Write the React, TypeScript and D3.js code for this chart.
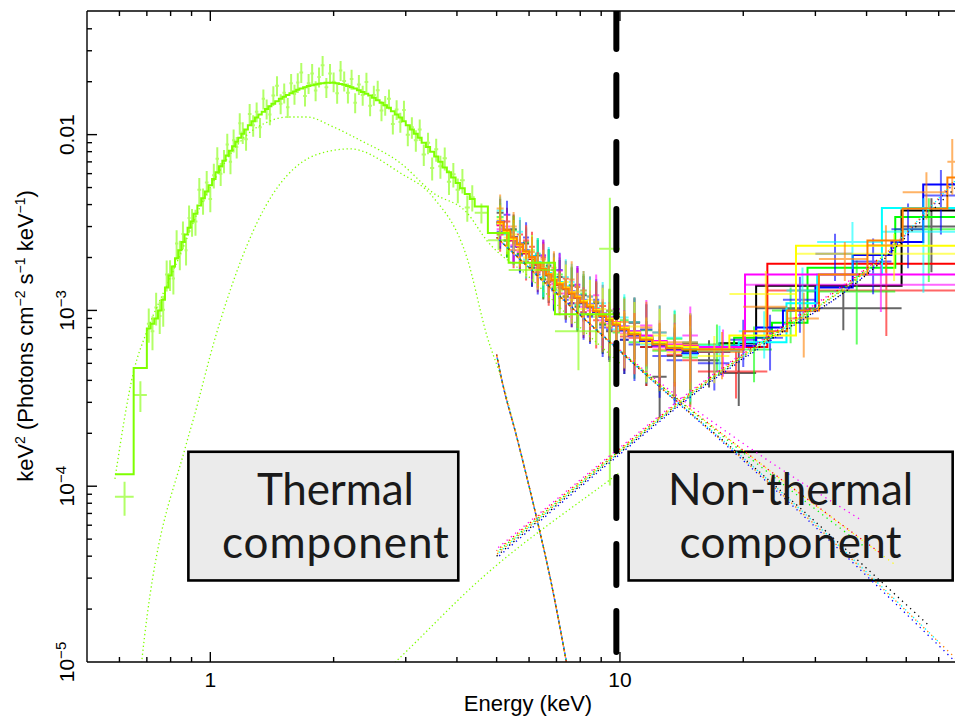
import React from "react";
import * as d3 from "d3";

// ---------- axes ----------
const X_DOMAIN: [number, number] = [0.5, 66.5];
const Y_DOMAIN: [number, number] = [1e-5, 0.0505];
const xTickLabels = [{ v: 1, t: "1" }, { v: 10, t: "10" }];
const yTickLabels = [
  { v: 1e-5, base: "10", sup: "\u22125" },
  { v: 1e-4, base: "10", sup: "\u22124" },
  { v: 1e-3, base: "10", sup: "\u22123" },
  { v: 1e-2, base: "0.01", sup: "" },
];

// ---------- soft X-ray spectrum (chartreuse) ----------
const greenEdges = [0.585, 0.65, 0.7, 0.715, 0.73, 0.745, 0.76, 0.775, 0.79, 0.805, 0.82, 0.835, 0.85, 0.865, 0.88, 0.895, 0.91, 0.93, 0.95, 0.97, 0.99, 1.01, 1.03, 1.05, 1.07, 1.09, 1.11, 1.13, 1.15, 1.17, 1.19, 1.21, 1.235, 1.26, 1.285, 1.31, 1.335, 1.36, 1.385, 1.41, 1.44, 1.47, 1.5, 1.53, 1.56, 1.59, 1.62, 1.65, 1.685, 1.72, 1.755, 1.79, 1.825, 1.86, 1.9, 1.94, 1.98, 2.02, 2.06, 2.1, 2.145, 2.19, 2.235, 2.28, 2.33, 2.38, 2.43, 2.48, 2.535, 2.59, 2.645, 2.7, 2.76, 2.82, 2.88, 2.94, 3.0, 3.07, 3.14, 3.21, 3.28, 3.36, 3.44, 3.52, 3.6, 3.69, 3.78, 3.87, 3.97, 4.07, 4.18, 4.3, 4.42, 4.76, 5.35, 6.94, 8.9, 10.0];
const greenModel = [1.17e-4, 4.7e-4, 7.9e-4, 8.4e-4, 9.0e-4, 1.0e-3, 1.15e-3, 1.35e-3, 1.58e-3, 1.78e-3, 1.98e-3, 2.2e-3, 2.45e-3, 2.7e-3, 2.95e-3, 3.2e-3, 3.55e-3, 3.95e-3, 4.35e-3, 4.75e-3, 5.15e-3, 5.6e-3, 6.1e-3, 6.6e-3, 7.1e-3, 7.6e-3, 8.1e-3, 8.6e-3, 9.1e-3, 9.6e-3, 1.01e-2, 1.07e-2, 1.13e-2, 1.19e-2, 1.25e-2, 1.3e-2, 1.35e-2, 1.4e-2, 1.45e-2, 1.5e-2, 1.55e-2, 1.6e-2, 1.64e-2, 1.68e-2, 1.72e-2, 1.76e-2, 1.8e-2, 1.83e-2, 1.86e-2, 1.89e-2, 1.91e-2, 1.93e-2, 1.95e-2, 1.96e-2, 1.97e-2, 1.97e-2, 1.97e-2, 1.96e-2, 1.94e-2, 1.92e-2, 1.89e-2, 1.86e-2, 1.83e-2, 1.79e-2, 1.75e-2, 1.71e-2, 1.67e-2, 1.62e-2, 1.57e-2, 1.52e-2, 1.47e-2, 1.42e-2, 1.36e-2, 1.3e-2, 1.25e-2, 1.19e-2, 1.13e-2, 1.07e-2, 1.01e-2, 9.6e-3, 9.0e-3, 8.5e-3, 8.0e-3, 7.5e-3, 7.0e-3, 6.5e-3, 6.1e-3, 5.7e-3, 5.3e-3, 4.95e-3, 4.6e-3, 4.3e-3, 3.9e-3, 2.76e-3, 1.87e-3, 9.5e-4, 9.5e-4];
const greenData = [8.7e-5, 3.3e-4, 8.4e-4, 7.6e-4, 1.04e-3, 9.3e-4, 1.01e-3, 1.6e-3, 1.61e-3, 1.52e-3, 2.4e-3, 2.09e-3, 2.72e-3, 2.2e-3, 3.35e-3, 3.2e-3, 3.2e-3, 4.85e-3, 4.22e-3, 5.35e-3, 4.3e-3, 5.88e-3, 7.3e-3, 6.0e-3, 7.1e-3, 8.8e-3, 7.0e-3, 9.3e-3, 8.5e-3, 1.16e-2, 1.03e-2, 9.4e-3, 1.31e-2, 1.13e-2, 1.35e-2, 1.1e-2, 1.6e-2, 1.4e-2, 1.3e-2, 1.67e-2, 1.9e-2, 1.5e-2, 1.73e-2, 1.43e-2, 1.96e-2, 1.7e-2, 1.98e-2, 2.26e-2, 1.66e-2, 1.96e-2, 2.23e-2, 1.78e-2, 2.13e-2, 2.48e-2, 1.86e-2, 2.23e-2, 2.0e-2, 1.72e-2, 2.32e-2, 2.02e-2, 1.73e-2, 2.07e-2, 1.52e-2, 1.93e-2, 1.68e-2, 1.99e-2, 1.46e-2, 1.68e-2, 1.79e-2, 1.37e-2, 1.47e-2, 1.6e-2, 1.15e-2, 1.39e-2, 1.18e-2, 1.38e-2, 1.0e-2, 1.1e-2, 9.3e-3, 1.07e-2, 7.7e-3, 9.0e-3, 6.45e-3, 8.25e-3, 6.6e-3, 7.35e-3, 5.4e-3, 5.95e-3, 4.85e-3, 5.5e-3, 3.85e-3, 4.4e-3, 3.59e-3, 2.51e-3, 1.7e-3, 7.6e-4, 2.24e-3];
const greenErr = [0.22, 0.2, 0.22, 0.22, 0.21, 0.21, 0.2, 0.2, 0.2, 0.19, 0.19, 0.19, 0.18, 0.18, 0.18, 0.18, 0.17, 0.17, 0.17, 0.16, 0.16, 0.16, 0.16, 0.15, 0.15, 0.15, 0.15, 0.15, 0.14, 0.14, 0.14, 0.14, 0.14, 0.14, 0.13, 0.13, 0.13, 0.13, 0.13, 0.13, 0.13, 0.13, 0.13, 0.13, 0.13, 0.13, 0.13, 0.13, 0.13, 0.13, 0.13, 0.13, 0.13, 0.13, 0.13, 0.13, 0.13, 0.13, 0.13, 0.13, 0.13, 0.13, 0.13, 0.13, 0.13, 0.13, 0.13, 0.13, 0.13, 0.13, 0.13, 0.13, 0.13, 0.13, 0.13, 0.13, 0.14, 0.14, 0.14, 0.14, 0.14, 0.14, 0.15, 0.15, 0.15, 0.15, 0.16, 0.16, 0.16, 0.16, 0.17, 0.17, 0.13, 0.12, 0.15, 0.4, 0.955];
// model components of the soft spectrum
const greenCoolE = [0.66, 0.68, 0.87, 0.909, 1.03, 1.3, 1.82, 2.19, 2.91, 3.5, 4.23, 4.74, 5.15, 5.6, 6.3, 6.8, 7.4, 7.8];
const greenCoolV = [5e-6, 1e-5, 1.68e-4, 2.4e-4, 7.1e-4, 3.15e-3, 7.7e-3, 8.3e-3, 6.05e-3, 4.4e-3, 2.0e-3, 7.1e-4, 4.0e-4, 1.9e-4, 6.2e-5, 2.8e-5, 1.0e-5, 5e-6];
const greenHotE = [0.585, 0.65, 0.7, 0.8, 0.86, 0.945, 1.04, 1.14, 1.23, 1.38, 1.54, 1.72, 1.99, 2.32, 2.91, 3.5, 4.23, 4.73, 6.0, 8.0, 10.0];
const greenHotV = [1.1e-4, 4.5e-4, 7.6e-4, 1.55e-3, 2.3e-3, 3.9e-3, 5.9e-3, 8.2e-3, 1.0e-2, 1.18e-2, 1.26e-2, 1.26e-2, 1.11e-2, 9.3e-3, 6.9e-3, 4.66e-3, 3.6e-3, 2.5e-3, 1.55e-3, 8.0e-4, 5.0e-4];
const greenPowE = [2.6, 2.83, 4.56, 9.46, 10.0];
const greenPowV = [8.3e-6, 1e-5, 2.95e-5, 1.09e-4, 1.2e-4];

// ---------- hard X-ray spectra (8 data sets) ----------
const nuLowEdges = [5.0, 5.2, 5.4, 5.6, 5.8, 6.0, 6.2, 6.4, 6.6, 6.8, 7.0, 7.25, 7.5, 7.75, 8.0, 8.3, 8.6, 8.9, 9.25, 9.6, 10.0, 10.5, 11.2, 12.0, 13.0, 14.2, 15.5];
const nuLowErr = [0.2, 0.2, 0.21, 0.21, 0.22, 0.22, 0.23, 0.23, 0.24, 0.24, 0.25, 0.26, 0.27, 0.28, 0.29, 0.3, 0.31, 0.32, 0.33, 0.34, 0.36, 0.38, 0.4, 0.42, 0.44, 0.46];
const nuCoolE = [5.0, 5.15, 5.6, 6.3, 6.8, 7.4, 7.8];
const nuCoolV = [5.6e-4, 4.0e-4, 1.9e-4, 6.2e-5, 2.8e-5, 1.0e-5, 5e-6];

const blackModelLow = [3.15e-3, 2.83e-3, 2.56e-3, 2.34e-3, 2.14e-3, 1.99e-3, 1.84e-3, 1.71e-3, 1.59e-3, 1.49e-3, 1.41e-3, 1.33e-3, 1.25e-3, 1.18e-3, 1.11e-3, 1.05e-3, 9.9e-4, 9.3e-4, 8.8e-4, 8.3e-4, 7.8e-4, 7.3e-4, 6.8e-4, 6.4e-4, 6.1e-4, 5.9e-4];
const blackDataLow = [3.6e-3, 2.5e-3, 2.9e-3, 2.1e-3, 2.4e-3, 1.75e-3, 2.05e-3, 1.5e-3, 1.8e-3, 1.32e-3, 1.55e-3, 1.2e-3, 1.38e-3, 1.05e-3, 1.22e-3, 9.4e-4, 1.1e-3, 8.3e-4, 7.6e-4, 9.2e-4, 6.8e-4, 8.5e-4, 6.2e-4, 4.2e-4, 5.5e-4, 6.5e-4];
const blackEdgesHigh = [15.5, 17.5, 21.5, 48.7, 66.5];
const blackModelHigh = [6.0e-4, 6.5e-4, 1.38e-3, 3.7e-3];
const blackDataHigh = [5.2e-4, 4.4e-4, 1.03e-3, 3.0e-3];
const blackErrHigh = [0.3, 0.35, 0.25, 0.45];
const blackHotE = [5, 12, 20, 57];
const blackHotV = [2.6e-3, 4.0e-4, 1.45e-4, 1.6e-5];
const blackPowE = [5, 10, 15.6, 25, 35.8, 43, 55, 66];
const blackPowV = [4.0e-5, 1.55e-4, 3.55e-4, 7.6e-4, 1.3e-3, 1.85e-3, 3.3e-3, 5.0e-3];

const redModelLow = [3.05e-3, 2.75e-3, 2.5e-3, 2.3e-3, 2.11e-3, 1.96e-3, 1.82e-3, 1.69e-3, 1.58e-3, 1.48e-3, 1.4e-3, 1.32e-3, 1.24e-3, 1.18e-3, 1.11e-3, 1.05e-3, 9.9e-4, 9.4e-4, 8.9e-4, 8.4e-4, 7.9e-4, 7.4e-4, 7.0e-4, 6.6e-4, 6.3e-4, 6.1e-4];
const redDataLow = [2.7e-3, 3.2e-3, 2.2e-3, 2.7e-3, 1.9e-3, 2.3e-3, 1.65e-3, 2.0e-3, 1.4e-3, 1.7e-3, 1.25e-3, 1.52e-3, 1.1e-3, 1.36e-3, 9.8e-4, 1.2e-3, 8.8e-4, 1.06e-3, 8.0e-4, 9.6e-4, 7.1e-4, 8.6e-4, 6.2e-4, 7.5e-4, 5.6e-4, 5.2e-4];
const redEdgesHigh = [15.5, 22.9, 66.5];
const redModelHigh = [6.2e-4, 1.84e-3];
const redDataHigh = [4.5e-4, 1.3e-3];
const redErrHigh = [0.3, 0.45];
const redHotE = [5, 12, 20, 43];
const redHotV = [2.6e-3, 4.1e-4, 1.6e-4, 4.2e-5];
const redPowE = [5, 10, 15.6, 25, 35.8, 43];
const redPowV = [4.3e-5, 1.63e-4, 3.72e-4, 8.1e-4, 1.42e-3, 1.98e-3];

const limeModelLow = [3.1e-3, 2.8e-3, 2.55e-3, 2.35e-3, 2.15e-3, 2.0e-3, 1.85e-3, 1.72e-3, 1.6e-3, 1.5e-3, 1.42e-3, 1.34e-3, 1.26e-3, 1.19e-3, 1.12e-3, 1.06e-3, 1.0e-3, 9.4e-4, 8.9e-4, 8.4e-4, 7.9e-4, 7.4e-4, 6.9e-4, 6.5e-4, 6.2e-4, 6.0e-4];
const limeDataLow = [3.4e-3, 2.5e-3, 2.85e-3, 2.1e-3, 2.45e-3, 1.8e-3, 2.1e-3, 1.52e-3, 1.78e-3, 1.35e-3, 1.6e-3, 1.2e-3, 1.4e-3, 1.07e-3, 1.25e-3, 9.5e-4, 1.12e-3, 8.4e-4, 9.9e-4, 7.5e-4, 8.8e-4, 6.6e-4, 7.7e-4, 5.9e-4, 6.9e-4, 5.4e-4];
const limeEdgesHigh = [15.5, 19, 23.5, 28.7, 47, 66.5];
const limeModelHigh = [6.0e-4, 7.0e-4, 8.5e-4, 1.75e-3, 3.4e-3];
const limeDataHigh = [6.4e-4, 6.0e-4, 1.0e-3, 1.28e-3, 2.9e-3];
const limeErrHigh = [0.3, 0.35, 0.35, 0.5, 0.5];
const limeHotE = [5, 12, 20, 40.7];
const limeHotV = [2.6e-3, 4.1e-4, 1.55e-4, 4.3e-5];
const limePowE = [5, 10, 15.6, 25, 35.8, 41];
const limePowV = [4.2e-5, 1.6e-4, 3.65e-4, 7.9e-4, 1.38e-3, 1.8e-3];

const blueModelLow = [3.2e-3, 2.88e-3, 2.62e-3, 2.4e-3, 2.19e-3, 2.03e-3, 1.87e-3, 1.73e-3, 1.61e-3, 1.5e-3, 1.42e-3, 1.33e-3, 1.25e-3, 1.18e-3, 1.1e-3, 1.04e-3, 9.8e-4, 9.2e-4, 8.7e-4, 8.2e-4, 7.7e-4, 7.2e-4, 6.7e-4, 6.3e-4, 6.0e-4, 5.7e-4];
const blueDataLow = [2.8e-3, 3.5e-3, 2.3e-3, 2.05e-3, 2.6e-3, 1.75e-3, 1.6e-3, 2.05e-3, 1.45e-3, 1.3e-3, 1.7e-3, 1.15e-3, 1.1e-3, 1.4e-3, 9.6e-4, 9.2e-4, 1.15e-3, 8.0e-4, 7.8e-4, 9.6e-4, 6.8e-4, 6.4e-4, 7.8e-4, 5.5e-4, 5.2e-4, 6.6e-4];
const blueEdgesHigh = [15.5, 18.5, 21.5, 25, 30, 37, 46, 55, 66.5];
const blueModelHigh = [5.8e-4, 6.3e-4, 8.0e-4, 1.0e-3, 1.35e-3, 2.07e-3, 2.45e-3, 5.2e-3];
const blueDataHigh = [5.0e-4, 6.8e-4, 7.0e-4, 1.15e-3, 2.1e-3, 1.9e-3, 2.9e-3, 4.5e-3];
const blueErrHigh = [0.3, 0.3, 0.35, 0.35, 0.3, 0.35, 0.4, 0.4];
const blueHotE = [5, 12, 20, 66];
const blueHotV = [2.6e-3, 4.0e-4, 1.4e-4, 1.0e-5];
const bluePowE = [5, 10, 15.6, 25, 35.8, 43, 55, 66];
const bluePowV = [3.9e-5, 1.52e-4, 3.5e-4, 7.5e-4, 1.3e-3, 1.88e-3, 3.45e-3, 5.4e-3];

const cyanModelLow = [3.1e-3, 2.82e-3, 2.58e-3, 2.38e-3, 2.18e-3, 2.03e-3, 1.88e-3, 1.75e-3, 1.63e-3, 1.53e-3, 1.45e-3, 1.37e-3, 1.29e-3, 1.22e-3, 1.15e-3, 1.09e-3, 1.03e-3, 9.6e-4, 9.1e-4, 8.6e-4, 8.1e-4, 7.6e-4, 7.1e-4, 6.6e-4, 6.3e-4, 6.1e-4];
const cyanDataLow = [3.7e-3, 2.7e-3, 2.6e-3, 2.8e-3, 1.95e-3, 2.2e-3, 2.1e-3, 1.55e-3, 1.85e-3, 1.7e-3, 1.3e-3, 1.55e-3, 1.45e-3, 1.08e-3, 1.3e-3, 1.2e-3, 9.2e-4, 1.1e-3, 1.0e-3, 7.8e-4, 9.1e-4, 8.6e-4, 6.4e-4, 7.5e-4, 7.0e-4, 5.6e-4];
const cyanEdgesHigh = [15.5, 19.5, 25.5, 30.3, 43.6, 66.5];
const cyanModelHigh = [5.9e-4, 6.6e-4, 1.1e-3, 1.6e-3, 3.83e-3];
const cyanDataHigh = [6.3e-4, 7.6e-4, 1.3e-3, 2.45e-3, 2.8e-3];
const cyanErrHigh = [0.3, 0.3, 0.35, 0.3, 0.55];
const cyanHotE = [5, 12, 20, 60];
const cyanHotV = [2.6e-3, 4.0e-4, 1.45e-4, 1.3e-5];
const cyanPowE = [5, 10, 15.6, 25, 35.8, 43, 55, 66];
const cyanPowV = [4.1e-5, 1.57e-4, 3.6e-4, 7.8e-4, 1.36e-3, 1.93e-3, 3.5e-3, 5.5e-3];

const magentaModelLow = [3.08e-3, 2.78e-3, 2.53e-3, 2.33e-3, 2.14e-3, 1.99e-3, 1.85e-3, 1.72e-3, 1.61e-3, 1.51e-3, 1.43e-3, 1.35e-3, 1.28e-3, 1.21e-3, 1.14e-3, 1.08e-3, 1.02e-3, 9.6e-4, 9.1e-4, 8.6e-4, 8.1e-4, 7.6e-4, 7.2e-4, 6.7e-4, 6.4e-4, 6.3e-4];
const magentaDataLow = [2.9e-3, 3.0e-3, 2.35e-3, 2.15e-3, 2.5e-3, 1.85e-3, 1.75e-3, 2.05e-3, 1.5e-3, 1.42e-3, 1.68e-3, 1.25e-3, 1.18e-3, 1.4e-3, 1.05e-3, 1.0e-3, 1.22e-3, 8.8e-4, 8.4e-4, 1.02e-3, 7.4e-4, 7.0e-4, 8.2e-4, 6.2e-4, 5.9e-4, 7.2e-4];
const magentaEdgesHigh = [15.5, 20.2, 66.5];
const magentaModelHigh = [6.2e-4, 1.6e-3];
const magentaDataHigh = [6.0e-4, 1.4e-3];
const magentaErrHigh = [0.3, 0.3];
const magentaHotE = [5, 12, 20, 38.5];
const magentaHotV = [2.6e-3, 4.2e-4, 1.75e-4, 6.5e-5];
const magentaPowE = [5, 10, 15.6, 25, 35.8, 42];
const magentaPowV = [4.4e-5, 1.66e-4, 3.78e-4, 8.2e-4, 1.44e-3, 1.9e-3];

const yellowModelLow = [3.12e-3, 2.8e-3, 2.55e-3, 2.35e-3, 2.15e-3, 2.0e-3, 1.86e-3, 1.73e-3, 1.61e-3, 1.51e-3, 1.43e-3, 1.35e-3, 1.27e-3, 1.2e-3, 1.13e-3, 1.07e-3, 1.01e-3, 9.5e-4, 9.0e-4, 8.5e-4, 8.0e-4, 7.5e-4, 7.0e-4, 6.6e-4, 6.3e-4, 6.2e-4];
const yellowDataLow = [3.3e-3, 2.6e-3, 2.7e-3, 2.25e-3, 2.0e-3, 2.2e-3, 1.7e-3, 1.8e-3, 1.5e-3, 1.62e-3, 1.3e-3, 1.45e-3, 1.15e-3, 1.28e-3, 1.02e-3, 1.15e-3, 9.2e-4, 1.02e-3, 8.2e-4, 9.0e-4, 7.3e-4, 8.1e-4, 6.5e-4, 7.2e-4, 5.8e-4, 6.6e-4];
const yellowEdgesHigh = [15.5, 18.5, 26.9, 66.5];
const yellowModelHigh = [6.0e-4, 7.2e-4, 2.33e-3];
const yellowDataHigh = [5.5e-4, 1.24e-3, 2.1e-3];
const yellowErrHigh = [0.3, 0.35, 0.3];
const yellowHotE = [5, 12, 20, 46.8];
const yellowHotV = [2.6e-3, 4.1e-4, 1.6e-4, 3.6e-5];
const yellowPowE = [5, 10, 15.6, 25, 35.8, 47];
const yellowPowV = [4.2e-5, 1.6e-4, 3.66e-4, 7.9e-4, 1.37e-3, 2.35e-3];

const orangeModelLow = [3.18e-3, 2.86e-3, 2.6e-3, 2.38e-3, 2.17e-3, 2.01e-3, 1.85e-3, 1.72e-3, 1.6e-3, 1.49e-3, 1.41e-3, 1.33e-3, 1.25e-3, 1.18e-3, 1.11e-3, 1.05e-3, 9.9e-4, 9.3e-4, 8.8e-4, 8.3e-4, 7.8e-4, 7.3e-4, 6.8e-4, 6.4e-4, 6.1e-4, 6.0e-4];
const orangeDataLow = [3.8e-3, 2.9e-3, 3.0e-3, 2.2e-3, 2.5e-3, 2.15e-3, 1.75e-3, 1.95e-3, 1.45e-3, 1.75e-3, 1.35e-3, 1.2e-3, 1.5e-3, 1.1e-3, 1.3e-3, 9.5e-4, 1.12e-3, 8.5e-4, 1.0e-3, 7.6e-4, 8.6e-4, 7.0e-4, 8.0e-4, 6.0e-4, 6.6e-4, 6.4e-4];
const orangeEdgesHigh = [15.5, 20.0, 25.6, 30.6, 40.2, 49, 63, 66.5];
const orangeModelHigh = [6.0e-4, 7.6e-4, 1.0e-3, 1.6e-3, 2.5e-3, 3.8e-3, 5.7e-3];
const orangeDataHigh = [5.8e-4, 1.05e-3, 9.0e-4, 1.96e-3, 2.35e-3, 4.7e-3, 7.0e-3];
const orangeErrHigh = [0.3, 0.35, 0.4, 0.25, 0.3, 0.3, 0.35];
const orangeHotE = [5, 12, 20, 66];
const orangeHotV = [2.6e-3, 4.0e-4, 1.42e-4, 1.05e-5];
const orangePowE = [5, 10, 15.6, 25, 35.8, 43, 55, 66];
const orangePowV = [4.1e-5, 1.58e-4, 3.62e-4, 7.8e-4, 1.36e-3, 1.95e-3, 3.5e-3, 5.6e-3];

// annotations (data units)
const dividerEnergy = 9.8;
const annotations = [
  { lines: ["Thermal", "component"], e0: 0.884, e1: 4.03, v0: 2.91e-5, v1: 1.57e-4, eText: 2.02 },
  { lines: ["Non-thermal", "component"], e0: 10.5, e1: 64.9, v0: 2.91e-5, v1: 1.57e-4, eText: 26.1 },
];

// ---------- assemble ----------
const nuSets = [
  { color: "#000000", ml: blackModelLow, dl: blackDataLow, eh: blackEdgesHigh, mh: blackModelHigh, dh: blackDataHigh, errh: blackErrHigh, hotE: blackHotE, hotV: blackHotV, powE: blackPowE, powV: blackPowV },
  { color: "#ff0000", ml: redModelLow, dl: redDataLow, eh: redEdgesHigh, mh: redModelHigh, dh: redDataHigh, errh: redErrHigh, hotE: redHotE, hotV: redHotV, powE: redPowE, powV: redPowV },
  { color: "#00ff00", ml: limeModelLow, dl: limeDataLow, eh: limeEdgesHigh, mh: limeModelHigh, dh: limeDataHigh, errh: limeErrHigh, hotE: limeHotE, hotV: limeHotV, powE: limePowE, powV: limePowV },
  { color: "#0000ff", ml: blueModelLow, dl: blueDataLow, eh: blueEdgesHigh, mh: blueModelHigh, dh: blueDataHigh, errh: blueErrHigh, hotE: blueHotE, hotV: blueHotV, powE: bluePowE, powV: bluePowV },
  { color: "#00ffff", ml: cyanModelLow, dl: cyanDataLow, eh: cyanEdgesHigh, mh: cyanModelHigh, dh: cyanDataHigh, errh: cyanErrHigh, hotE: cyanHotE, hotV: cyanHotV, powE: cyanPowE, powV: cyanPowV },
  { color: "#ff00ff", ml: magentaModelLow, dl: magentaDataLow, eh: magentaEdgesHigh, mh: magentaModelHigh, dh: magentaDataHigh, errh: magentaErrHigh, hotE: magentaHotE, hotV: magentaHotV, powE: magentaPowE, powV: magentaPowV },
  { color: "#ffff00", ml: yellowModelLow, dl: yellowDataLow, eh: yellowEdgesHigh, mh: yellowModelHigh, dh: yellowDataHigh, errh: yellowErrHigh, hotE: yellowHotE, hotV: yellowHotV, powE: yellowPowE, powV: yellowPowV },
  { color: "#ff8000", ml: orangeModelLow, dl: orangeDataLow, eh: orangeEdgesHigh, mh: orangeModelHigh, dh: orangeDataHigh, errh: orangeErrHigh, hotE: orangeHotE, hotV: orangeHotV, powE: orangePowE, powV: orangePowV },
].map((s) => ({
  color: s.color,
  edges: nuLowEdges.concat(s.eh.slice(1)),
  model: s.ml.concat(s.mh),
  data: s.dl.concat(s.dh),
  err: nuLowErr.concat(s.errh),
  comps: [
    { e: nuCoolE, v: nuCoolV },
    { e: s.hotE, v: s.hotV },
    { e: s.powE, v: s.powV },
  ],
}));

const GREEN = "#7fff00";
const FONT = "'Liberation Sans', Arial, Helvetica, sans-serif";
const BOX_FONT = "Lato, 'Open Sans', sans-serif";
const W = 955;
const H = 719;
const PL = 87, PR = 957, PT = 11, PB = 662;
const boxLineWidths = [
  [157, 227],
  [245, 222],
];

const x = d3.scaleLog().domain(X_DOMAIN).range([PL, PR]);
const y = d3.scaleLog().domain(Y_DOMAIN).range([PB, PT]);

const stepLine = d3
  .line<[number, number]>()
  .x((d) => x(d[0]))
  .y((d) => y(d[1]))
  .curve(d3.curveStepAfter);

const compLine = d3
  .line<[number, number]>()
  .x((d) => x(d[0]))
  .y((d) => y(d[1]))
  .curve(d3.curveMonotoneX);

function stepPath(edges: number[], vals: number[]) {
  const pts: [number, number][] = vals.map((v, i) => [edges[i], v]);
  pts.push([edges[edges.length - 1], vals[vals.length - 1]]);
  return stepLine(pts) || "";
}

function crossPath(edges: number[], vals: number[], err: number[]) {
  const p = d3.path();
  vals.forEach((v, i) => {
    const lo = edges[i], hi = edges[i + 1];
    const s = v * err[i];
    const xc = x((lo + hi) / 2);
    p.moveTo(x(lo), y(v));
    p.lineTo(x(hi), y(v));
    p.moveTo(xc, y(Math.max(v - s, 1e-6)));
    p.lineTo(xc, y(v + s));
  });
  return p.toString();
}

function compPath(e: number[], v: number[]) {
  return compLine(e.map((ei, i) => [ei, v[i]] as [number, number])) || "";
}

export default function App() {
  const xt = x.ticks().filter((t) => t > X_DOMAIN[0] * 1.001 && t < X_DOMAIN[1]);
  const yt = y.ticks().filter((t) => t > Y_DOMAIN[0] * 1.001 && t < Y_DOMAIN[1] * 0.98);
  const isMajor = (t: number) => Math.abs(Math.log10(t) - Math.round(Math.log10(t))) < 1e-6;
  const xDiv = x(dividerEnergy);

  return (
    <svg width={W} height={H} style={{ position: "absolute", left: 0, top: 0, background: "#fff" }} fontFamily={FONT}>
      <defs>
        <clipPath id="plotclip">
          <rect x={PL} y={PT} width={PR - PL} height={PB - PT} />
        </clipPath>
      </defs>
      <rect x={0} y={0} width={W} height={H} fill="#fff" />

      {/* annotation boxes (background) */}
      {annotations.map((a, i) => (
        <rect key={"box" + i} x={x(a.e0)} y={y(a.v1)} width={x(a.e1) - x(a.e0)} height={y(a.v0) - y(a.v1)} fill="#ebebeb" stroke="#000" strokeWidth={2.6} />
      ))}

      <g clipPath="url(#plotclip)">
        {/* hard X-ray data sets */}
        {nuSets.map((s, i) => (
          <g key={"nu" + i}>
            <path d={crossPath(s.edges, s.data, s.err)} stroke={s.color} strokeOpacity={0.6} strokeWidth={2} fill="none" />
            <path d={stepPath(s.edges, s.model)} stroke={s.color} strokeWidth={2} fill="none" />
          </g>
        ))}
        {/* soft X-ray data set */}
        <path d={crossPath(greenEdges, greenData, greenErr)} stroke={GREEN} strokeOpacity={0.6} strokeWidth={2} fill="none" />
        <path d={stepPath(greenEdges, greenModel)} stroke={GREEN} strokeWidth={2} fill="none" />

        {/* model components (dotted) */}
        {[{ e: greenCoolE, v: greenCoolV }, { e: greenHotE, v: greenHotV }, { e: greenPowE, v: greenPowV }].map((c, j) => (
          <path key={"gc" + j} d={compPath(c.e, c.v)} stroke={GREEN} strokeWidth={1.3} strokeDasharray="1.3 2.7" fill="none" />
        ))}
        {nuSets.map((s, i) =>
          s.comps.map((c, j) => (
            <path key={"c" + i + "-" + j} d={compPath(c.e, c.v)} stroke={s.color} strokeWidth={1.3} strokeDasharray="1.3 4.2" strokeDashoffset={i * 0.7} fill="none" />
          ))
        )}

        {/* divider */}
        <line x1={xDiv} x2={xDiv} y1={PT - 3} y2={PB} stroke="#000" strokeWidth={6} strokeDasharray="41 26" strokeLinecap="round" />
      </g>

      {/* annotation text */}
      {annotations.map((a, i) => (
        <text key={"at" + i} textAnchor="middle" fontFamily={BOX_FONT} fontWeight={400} fontSize={44} fill="#1a1a1a">
          <tspan x={x(a.eText)} y={y(a.v1) + 53} textLength={boxLineWidths[i][0]} lengthAdjust="spacing">{a.lines[0]}</tspan>
          <tspan x={x(a.eText)} y={y(a.v1) + 106} textLength={boxLineWidths[i][1]} lengthAdjust="spacing">{a.lines[1]}</tspan>
        </text>
      ))}

      {/* frame */}
      <g stroke="#000" strokeWidth={1.4} fill="none">
        <line x1={PL} x2={PR} y1={PT} y2={PT} />
        <line x1={PL} x2={PR} y1={PB} y2={PB} />
        <line x1={PL} x2={PL} y1={PT} y2={PB} />
        <line x1={PR} x2={PR} y1={PT} y2={PB} />
        {xt.map((t) => {
          const L = isMajor(t) ? 10 : 5;
          return (
            <g key={"xt" + t}>
              <line x1={x(t)} x2={x(t)} y1={PB} y2={PB - L} />
              <line x1={x(t)} x2={x(t)} y1={PT} y2={PT + L} />
            </g>
          );
        })}
        {yt.map((t) => {
          const L = isMajor(t) ? 10 : 5;
          return <line key={"yt" + t} x1={PL} x2={PL + L} y1={y(t)} y2={y(t)} />;
        })}
      </g>

      {/* tick labels */}
      {xTickLabels.map((d) => (
        <text key={"xl" + d.v} x={x(d.v)} y={687} textAnchor="middle" fontSize={21} fill="#000">
          {d.t}
        </text>
      ))}
      {yTickLabels.map((d) => {
        const ty = y(d.v);
        return (
          <text key={"yl" + d.v} x={74} y={ty} transform={`rotate(-90 74 ${ty})`} textAnchor="middle" fontSize={21} fill="#000">
            {d.base}
            {d.sup ? (
              <tspan dy={-8} fontSize={15}>
                {d.sup}
              </tspan>
            ) : null}
          </text>
        );
      })}

      {/* axis titles */}
      <text x={528} y={711} textAnchor="middle" fontSize={22} fill="#000">
        Energy (keV)
      </text>
      <text x={33} y={336} transform="rotate(-90 33 336)" textAnchor="middle" fontSize={22} fill="#000">
        keV<tspan dy={-8} fontSize={14}>2</tspan>
        <tspan dy={8}> (Photons cm</tspan>
        <tspan dy={-8} fontSize={14}>{"\u22122"}</tspan>
        <tspan dy={8}> s</tspan>
        <tspan dy={-8} fontSize={14}>{"\u22121"}</tspan>
        <tspan dy={8}> keV</tspan>
        <tspan dy={-8} fontSize={14}>{"\u22121"}</tspan>
        <tspan dy={8}>)</tspan>
      </text>
    </svg>
  );
}
